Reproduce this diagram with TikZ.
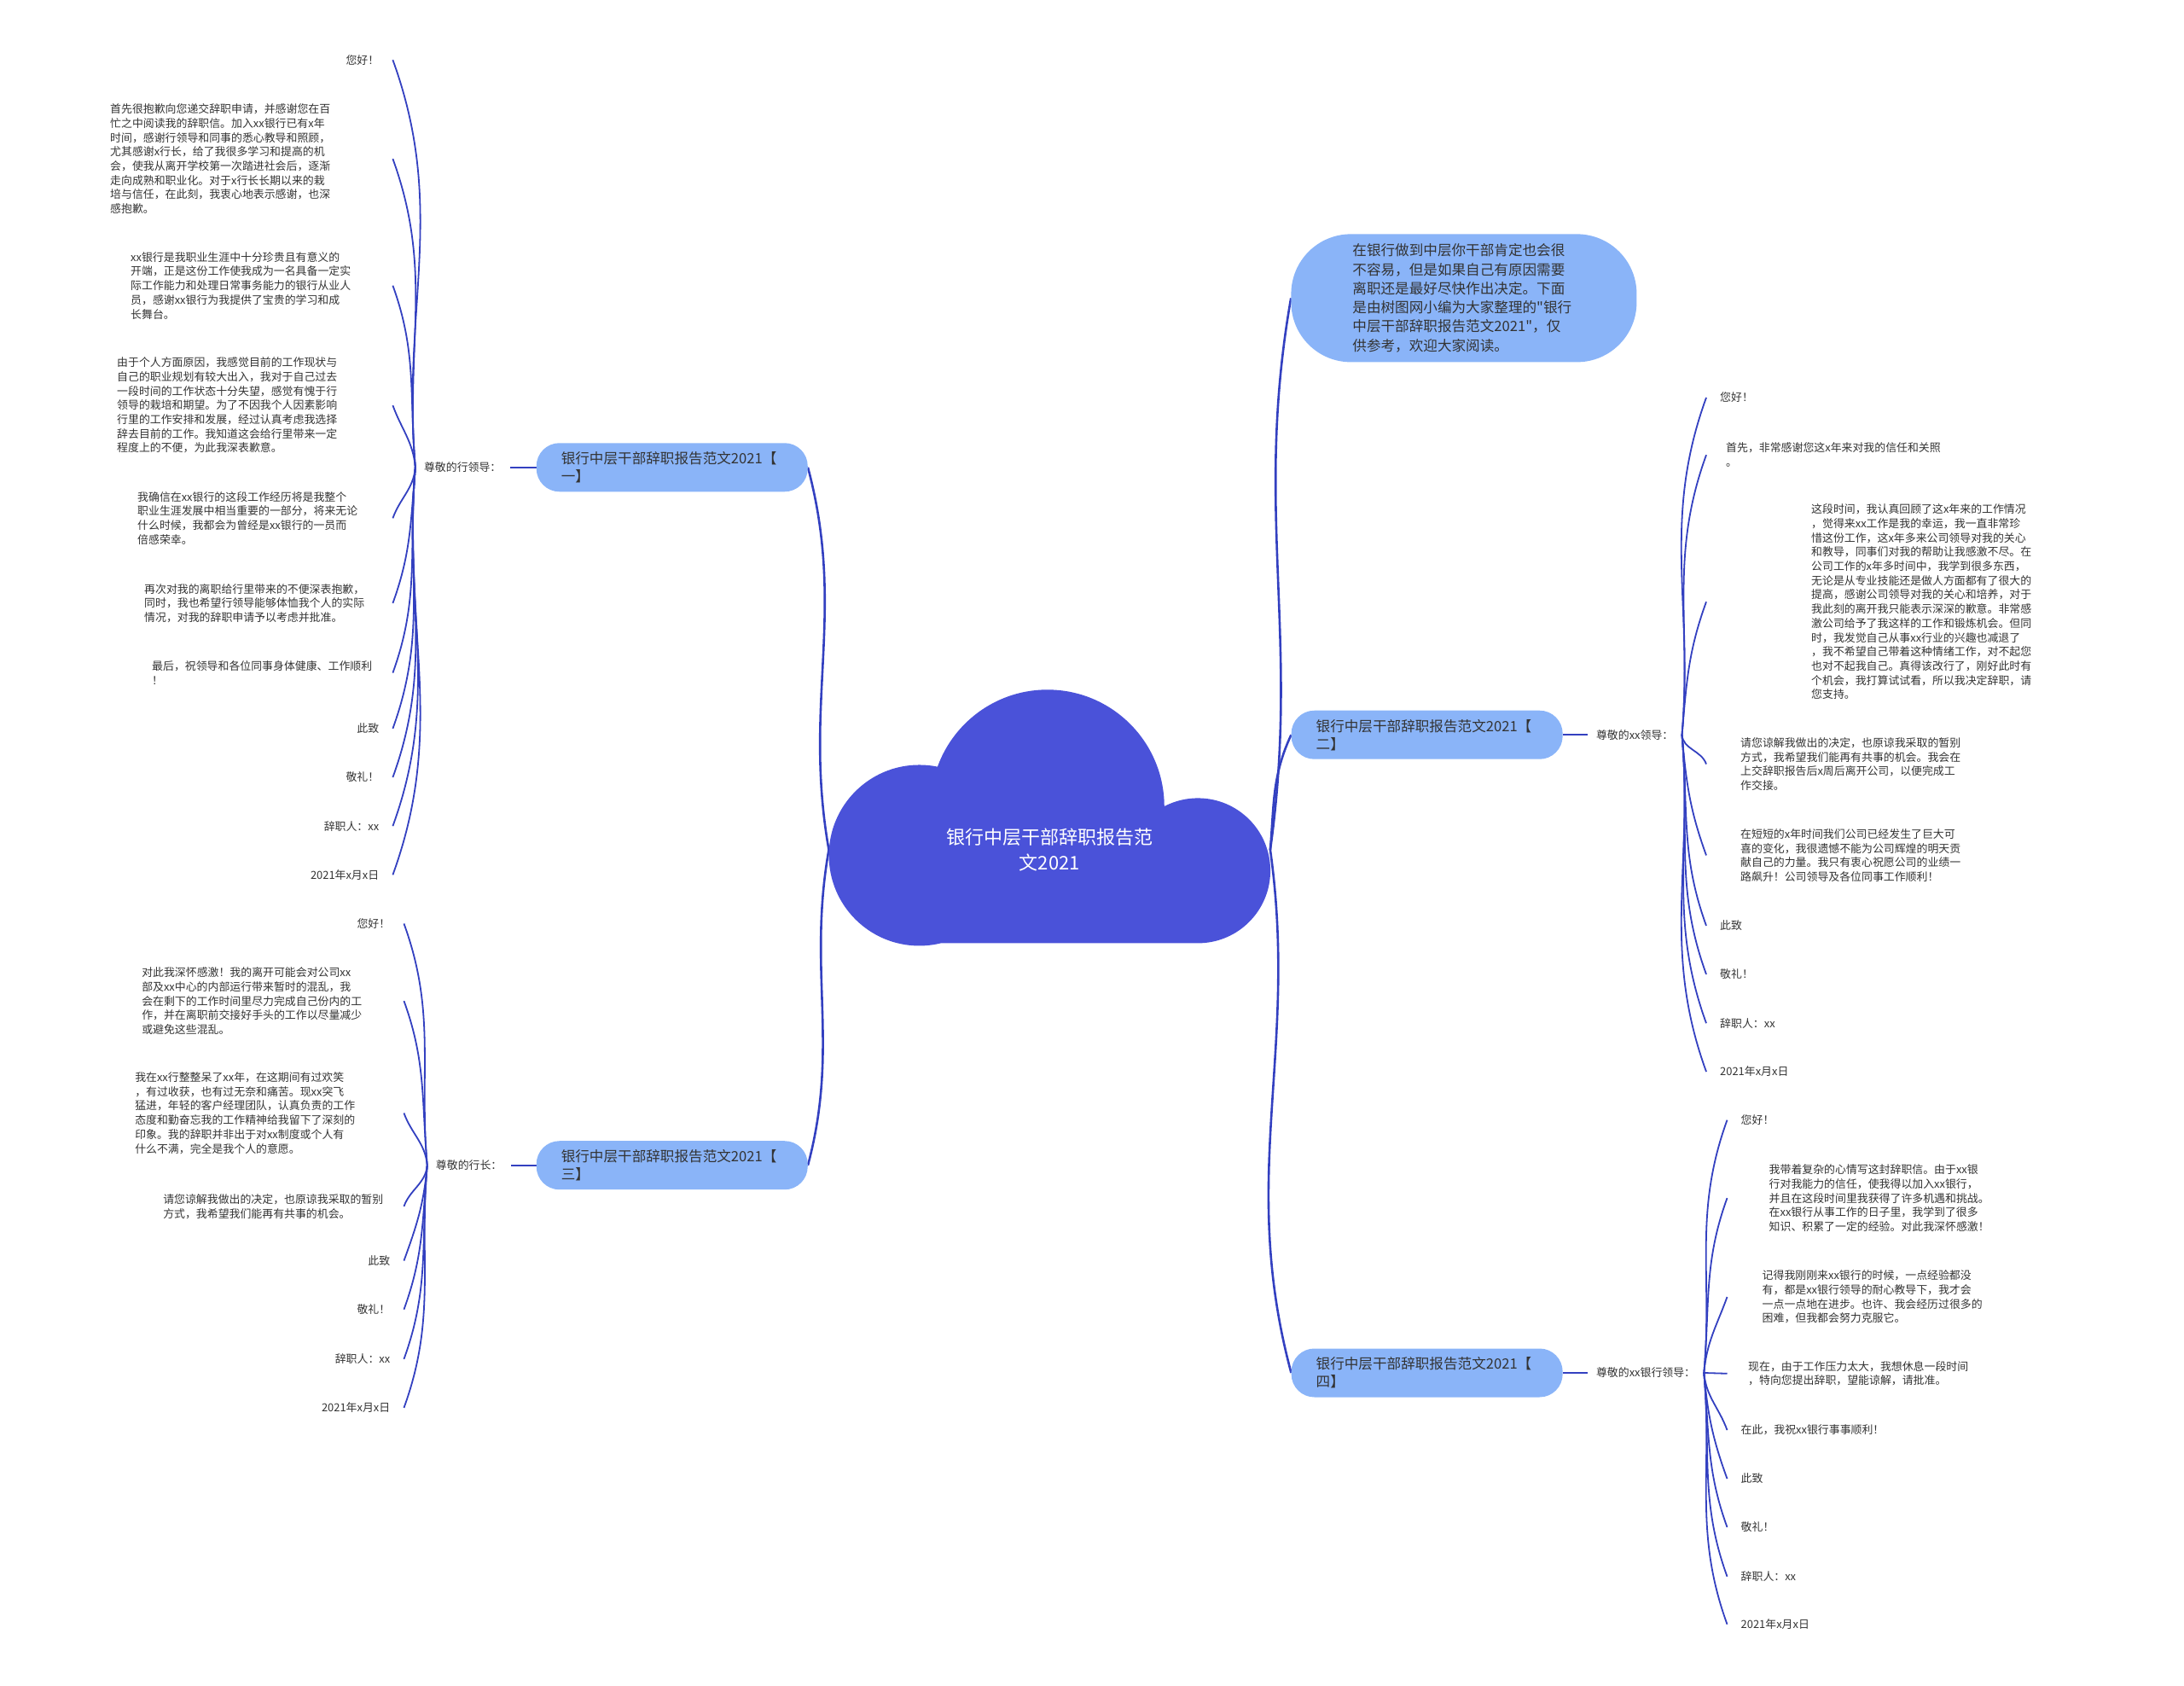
\documentclass[tikz,border=0pt]{standalone}
\usepackage{fontspec}
\newfontfamily\cjk{Noto Sans CJK SC}
\usetikzlibrary{positioning,backgrounds}
\definecolor{rootc}{HTML}{4A52D9}
\definecolor{nodec}{HTML}{8AB4F8}
\definecolor{linkc}{HTML}{3340C0}
\definecolor{txtc}{HTML}{333333}

\begin{document}
\begin{tikzpicture}[
  x=1.63265pt, y=-1.63265pt,
  font=\cjk,
  cloudtxt/.style={text=white,align=center,font=\cjk\fontsize{22}{29.4}\selectfont,
                   minimum width=517pt,minimum height=60pt},
  topic/.style   ={fill=nodec,rounded corners=27pt,align=left,text=txtc,
                   font=\cjk\fontsize{16.6}{21}\selectfont,text width=260pt,
                   inner xsep=29pt,minimum height=57pt},
  intro/.style   ={topic,rounded corners=70pt,text width=261pt,inner xsep=72pt,
                   minimum height=150pt,font=\cjk\fontsize{16.6}{22.3}\selectfont},
  sub/.style     ={text=txtc,font=\cjk\fontsize{12.9}{16.7}\selectfont,
                   inner xsep=10pt,inner ysep=2pt},
  leaf/.style    ={text=txtc,font=\cjk\fontsize{12.9}{16.7}\selectfont,align=left,
                   inner xsep=16pt,inner ysep=1pt},
  lleaf/.style   ={leaf,anchor=east},
  rleaf/.style   ={leaf,anchor=west},
  lk1/.style     ={draw=linkc,line width=2.6pt},
  lk2/.style     ={draw=linkc,line width=1.8pt},
  lup/.style={out=95,in=-70}, ldn/.style={out=-95,in=70},
  rup/.style={out=85,in=-110}, rdn/.style={out=-85,in=110}]

\useasboundingbox (0,0) rectangle (1568,1210);

% ---------- centre cloud ----------
\fill[rootc] (752,579) circle (137pt) (660,614) circle (106pt) (860,625) circle (85pt)
  (660,614) rectangle (860,677);
\node[cloudtxt] (root) at (753.5,610) {银行中层干部辞职报告范\\文2021};

% ---------- first level ----------
\node[intro] (intro) at (1051,214) {在银行做到中层你干部肯定也会很\\不容易，但是如果自己有原因需要\\离职还是最好尽快作出决定。下面\\是由树图网小编为大家整理的"银行\\中层干部辞职报告范文2021"，仅\\供参考，欢迎大家阅读。};
\node[topic] (b1) at (482.5,335.5) {银行中层干部辞职报告范文2021【\\一】};
\node[topic] (b3) at (482.5,836.5) {银行中层干部辞职报告范文2021【\\三】};
\node[topic] (b2) at (1024.5,527.5) {银行中层干部辞职报告范文2021【\\二】};
\node[topic] (b4) at (1024.5,985.5) {银行中层干部辞职报告范文2021【\\四】};

% ---------- second level ----------
\node[sub,left=31pt of b1]  (g1) {尊敬的行领导：};
\node[sub,left=30pt of b3]  (g3) {尊敬的行长：};
\node[sub,right=29pt of b2] (g2) {尊敬的xx领导：};
\node[sub,right=29pt of b4] (g4) {尊敬的xx银行领导：};

% ---------- leaves : part 1 ----------
\node[lleaf] (l1a) at (282,43) {您好！};
\node[lleaf,text width=315pt] (l1b) at (282,114) {首先很抱歉向您递交辞职申请，并感谢您在百\\忙之中阅读我的辞职信。加入xx银行已有x年\\时间，感谢行领导和同事的悉心教导和照顾，\\尤其感谢x行长，给了我很多学习和提高的机\\会，使我从离开学校第一次踏进社会后，逐渐\\走向成熟和职业化。对于x行长长期以来的栽\\培与信任，在此刻，我衷心地表示感谢，也深\\感抱歉。};
\node[lleaf,text width=291pt] (l1c) at (282,205) {xx银行是我职业生涯中十分珍贵且有意义的\\开端，正是这份工作使我成为一名具备一定实\\际工作能力和处理日常事务能力的银行从业人\\员，感谢xx银行为我提供了宝贵的学习和成\\长舞台。};
\node[lleaf,text width=307pt] (l1d) at (282,291) {由于个人方面原因，我感觉目前的工作现状与\\自己的职业规划有较大出入，我对于自己过去\\一段时间的工作状态十分失望，感觉有愧于行\\领导的栽培和期望。为了不因我个人因素影响\\行里的工作安排和发展，经过认真考虑我选择\\辞去目前的工作。我知道这会给行里带来一定\\程度上的不便，为此我深表歉意。};
\node[lleaf,text width=283pt] (l1e) at (282,372) {我确信在xx银行的这段工作经历将是我整个\\职业生涯发展中相当重要的一部分，将来无论\\什么时候，我都会为曾经是xx银行的一员而\\倍感荣幸。};
\node[lleaf,text width=275pt] (l1f) at (282,433) {再次对我的离职给行里带来的不便深表抱歉，\\同时，我也希望行领导能够体恤我个人的实际\\情况，对我的辞职申请予以考虑并批准。};
\node[lleaf,text width=266pt] (l1g) at (282,483) {最后，祝领导和各位同事身体健康、工作顺利\\！};
\node[lleaf] (l1h) at (282,523) {此致};
\node[lleaf] (l1i) at (282,558) {敬礼！};
\node[lleaf] (l1j) at (282,593) {辞职人：xx};
\node[lleaf] (l1k) at (282,628) {2021年x月x日};

% ---------- leaves : part 3 ----------
\node[lleaf] (l3a) at (290,663) {您好！};
\node[lleaf,text width=291pt] (l3b) at (290,718.5) {对此我深怀感激！我的离开可能会对公司xx\\部及xx中心的内部运行带来暂时的混乱，我\\会在剩下的工作时间里尽力完成自己份内的工\\作，并在离职前交接好手头的工作以尽量减少\\或避免这些混乱。};
\node[lleaf,text width=299pt] (l3c) at (290,799) {我在xx行整整呆了xx年，在这期间有过欢笑\\，有过收获，也有过无奈和痛苦。现xx突飞\\猛进，年轻的客户经理团队，认真负责的工作\\态度和勤奋忘我的工作精神给我留下了深刻的\\印象。我的辞职并非出于对xx制度或个人有\\什么不满，完全是我个人的意愿。};
\node[lleaf,text width=266pt] (l3d) at (290,866) {请您谅解我做出的决定，也原谅我采取的暂别\\方式，我希望我们能再有共事的机会。};
\node[lleaf] (l3e) at (290,905) {此致};
\node[lleaf] (l3f) at (290,940) {敬礼！};
\node[lleaf] (l3g) at (290,975.6) {辞职人：xx};
\node[lleaf] (l3h) at (290,1010.6) {2021年x月x日};

% ---------- leaves : part 2 ----------
\node[rleaf] (l2a) at (1225,285.4) {您好！};
\node[rleaf,inner xsep=23pt] (l2b) at (1225,326.6) {首先，非常感谢您这x年来对我的信任和关照\\。};
\node[rleaf,inner xsep=123pt] (l2c) at (1225,432) {这段时间，我认真回顾了这x年来的工作情况\\，觉得来xx工作是我的幸运，我一直非常珍\\惜这份工作，这x年多来公司领导对我的关心\\和教导，同事们对我的帮助让我感激不尽。在\\公司工作的x年多时间中，我学到很多东西，\\无论是从专业技能还是做人方面都有了很大的\\提高，感谢公司领导对我的关心和培养，对于\\我此刻的离开我只能表示深深的歉意。非常感\\激公司给予了我这样的工作和锻炼机会。但同\\时，我发觉自己从事xx行业的兴趣也减退了\\，我不希望自己带着这种情绪工作，对不起您\\也对不起我自己。真得该改行了，刚好此时有\\个机会，我打算试试看，所以我决定辞职，请\\您支持。};
\node[rleaf,inner xsep=40pt] (l2d) at (1225,548.5) {请您谅解我做出的决定，也原谅我采取的暂别\\方式，我希望我们能再有共事的机会。我会在\\上交辞职报告后x周后离开公司，以便完成工\\作交接。};
\node[rleaf,inner xsep=40pt] (l2e) at (1225,614) {在短短的x年时间我们公司已经发生了巨大可\\喜的变化，我很遗憾不能为公司辉煌的明天贡\\献自己的力量。我只有衷心祝愿公司的业绩一\\路飙升！公司领导及各位同事工作顺利！};
\node[rleaf] (l2f) at (1225,664.5) {此致};
\node[rleaf] (l2g) at (1225,699.4) {敬礼！};
\node[rleaf] (l2h) at (1225,734.5) {辞职人：xx};
\node[rleaf] (l2i) at (1225,769.3) {2021年x月x日};

% ---------- leaves : part 4 ----------
\node[rleaf] (l4a) at (1240,804) {您好！};
\node[rleaf,inner xsep=49pt] (l4b) at (1240,860) {我带着复杂的心情写这封辞职信。由于xx银\\行对我能力的信任，使我得以加入xx银行，\\并且在这段时间里我获得了许多机遇和挑战。\\在xx银行从事工作的日子里，我学到了很多\\知识、积累了一定的经验。对此我深怀感激！};
\node[rleaf,inner xsep=41pt] (l4c) at (1240,931) {记得我刚刚来xx银行的时候，一点经验都没\\有，都是xx银行领导的耐心教导下，我才会\\一点一点地在进步。也许、我会经历过很多的\\困难，但我都会努力克服它。};
\node[rleaf,inner xsep=24.5pt] (l4d) at (1240,986) {现在，由于工作压力太大，我想休息一段时间\\，特向您提出辞职，望能谅解，请批准。};
\node[rleaf] (l4e) at (1240,1026.6) {在此，我祝xx银行事事顺利！};
\node[rleaf] (l4f) at (1240,1061.5) {此致};
\node[rleaf] (l4g) at (1240,1096.3) {敬礼！};
\node[rleaf] (l4h) at (1240,1131.7) {辞职人：xx};
\node[rleaf] (l4i) at (1240,1166) {2021年x月x日};

% ---------- connectors ----------
\begin{scope}[on background layer]
\draw[lk1] (root.west) to[out=100,in=-75] (b1.east);
\draw[lk1] (root.west) to[out=-100,in=75] (b3.east);
\draw[lk1] (root.east) to[out=82,in=-100] (intro.west);
\draw[lk1] (root.east) to[out=85,in=-115] (b2.west);
\draw[lk1] (root.east) to[out=-82,in=105] (b4.west);

\draw[lk2] (b1.west) -- (g1.east); \draw[lk2] (b3.west) -- (g3.east);
\draw[lk2] (b2.east) -- (g2.west); \draw[lk2] (b4.east) -- (g4.west);

\draw[lk2] (g1.west) to[lup] (l1a.east); \draw[lk2] (g1.west) to[lup] (l1b.east);
\draw[lk2] (g1.west) to[lup] (l1c.east); \draw[lk2] (g1.west) to[lup] (l1d.east);
\draw[lk2] (g1.west) to[ldn] (l1e.east); \draw[lk2] (g1.west) to[ldn] (l1f.east);
\draw[lk2] (g1.west) to[ldn] (l1g.east); \draw[lk2] (g1.west) to[ldn] (l1h.east);
\draw[lk2] (g1.west) to[ldn] (l1i.east); \draw[lk2] (g1.west) to[ldn] (l1j.east);
\draw[lk2] (g1.west) to[ldn] (l1k.east);

\draw[lk2] (g3.west) to[lup] (l3a.east); \draw[lk2] (g3.west) to[lup] (l3b.east);
\draw[lk2] (g3.west) to[lup] (l3c.east); \draw[lk2] (g3.west) to[ldn] (l3d.east);
\draw[lk2] (g3.west) to[ldn] (l3e.east); \draw[lk2] (g3.west) to[ldn] (l3f.east);
\draw[lk2] (g3.west) to[ldn] (l3g.east); \draw[lk2] (g3.west) to[ldn] (l3h.east);

\draw[lk2] (g2.east) to[rup] (l2a.west); \draw[lk2] (g2.east) to[rup] (l2b.west);
\draw[lk2] (g2.east) to[rup] (l2c.west); \draw[lk2] (g2.east) to[rdn] (l2d.west);
\draw[lk2] (g2.east) to[rdn] (l2e.west); \draw[lk2] (g2.east) to[rdn] (l2f.west);
\draw[lk2] (g2.east) to[rdn] (l2g.west); \draw[lk2] (g2.east) to[rdn] (l2h.west);
\draw[lk2] (g2.east) to[rdn] (l2i.west);

\draw[lk2] (g4.east) to[rup] (l4a.west); \draw[lk2] (g4.east) to[rup] (l4b.west);
\draw[lk2] (g4.east) to[rup] (l4c.west); \draw[lk2] (g4.east) -- (l4d.west);
\draw[lk2] (g4.east) to[rdn] (l4e.west); \draw[lk2] (g4.east) to[rdn] (l4f.west);
\draw[lk2] (g4.east) to[rdn] (l4g.west); \draw[lk2] (g4.east) to[rdn] (l4h.west);
\draw[lk2] (g4.east) to[rdn] (l4i.west);
\end{scope}

\end{tikzpicture}
\end{document}
